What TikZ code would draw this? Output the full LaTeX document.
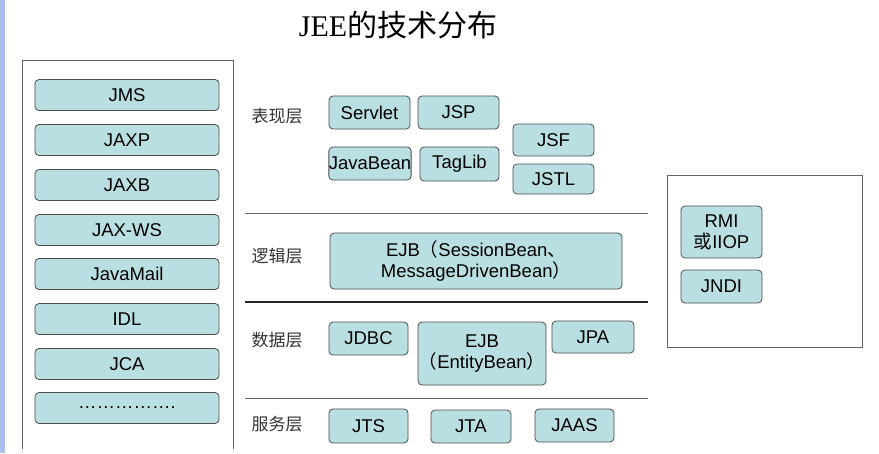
\documentclass[tikz,border=0pt]{standalone}
\usepackage{fontspec}
\setmainfont{Liberation Sans}
\newfontfamily\cjk{Noto Sans CJK SC}
\newfontfamily\titlefont{Liberation Serif}
\begin{document}
\begin{tikzpicture}[x=1pt,y=-1pt,
  tb/.style={draw=black!70,fill=boxfill,rounded corners=4pt,line width=0.8pt,inner sep=0pt,align=center,font=\fontsize{18.5}{21}\selectfont},
  lbl/.style={font=\cjk\fontsize{17}{20}\selectfont,text=black!80},
  frame/.style={draw=black!60,line width=0.7pt}]
\definecolor{boxfill}{HTML}{B9DFE2}
\useasboundingbox (0,0) rectangle (879,453);
\fill[fill=white] (0,0) rectangle (879,453);
\fill[fill={rgb,255:red,170;green,190;blue,235}] (0,0) rectangle (5,453);
\node (title) at (398,25) {\titlefont\fontsize{30}{34}\selectfont JEE\cjk 的技术分布};
% left box
\draw[frame] (22,449) -- (22,60) -- (233,60) -- (233,449);
\foreach \t/\y [count=\i] in {JMS/95,JAXP/140,JAXB/185,JAX-WS/230,JavaMail/274,IDL/319,JCA/364,{…………….}/408}
  \node[tb,minimum width=184pt,minimum height=31pt] (L\i) at (127,\y) {\t};
% layer lines
\coordinate (a1) at (245,213); \coordinate (a2) at (648,213);
\coordinate (b1) at (245,302); \coordinate (b2) at (648,302);
\coordinate (c1) at (245,398); \coordinate (c2) at (648,398);
\draw[frame] (a1) -- (a2);
\draw[black!85,line width=1.6pt] (b1) -- (b2);
\draw[frame] (c1) -- (c2);
\node[lbl] (p1) at (277,116) {表现层};
\node[lbl] (p2) at (277,256) {逻辑层};
\node[lbl] (p3) at (277,340) {数据层};
\node[lbl] (p4) at (277,424) {服务层};
\node[tb,minimum width=81pt,minimum height=33pt] (servlet) at (369.5,112.5) {Servlet};
\node[tb,minimum width=81pt,minimum height=33pt] (jsp) at (458.5,112.5) {JSP};
\node[tb,minimum width=82pt,minimum height=33pt] (jb) at (370,163.5) {JavaBean};
\node[tb,minimum width=79pt,minimum height=34pt] (tag) at (459.5,164) {TagLib};
\node[tb,minimum width=81pt,minimum height=32pt] (jsf) at (553.5,140) {JSF};
\node[tb,minimum width=81pt,minimum height=30pt] (jstl) at (553.5,179) {JSTL};
\node[tb,minimum width=292pt,minimum height=56pt] (ejb1) at (476,261) {EJB\cjk（\fontspec{Liberation Sans}SessionBean\cjk、\\MessageDrivenBean\cjk）};
\node[tb,minimum width=79pt,minimum height=33pt] (jdbc) at (368.5,338.5) {JDBC};
\node[tb,minimum width=128pt,minimum height=63pt] (ejb2) at (482,353.5) {EJB\\\cjk（\fontspec{Liberation Sans}EntityBean\cjk）};
\node[tb,minimum width=82pt,minimum height=32pt] (jpa) at (593,337) {JPA};
\node[tb,minimum width=79pt,minimum height=34pt] (jts) at (368.5,426) {JTS};
\node[tb,minimum width=80pt,minimum height=33pt] (jta) at (471,426.5) {JTA};
\node[tb,minimum width=79pt,minimum height=33pt] (jaas) at (574.5,425.5) {JAAS};
% right box
\draw[frame] (667,175) rectangle (862,347);
\node[tb,minimum width=81pt,minimum height=52pt] (rmi) at (721.5,232) {RMI\\\cjk 或\fontspec{Liberation Sans}IIOP};
\node[tb,minimum width=81pt,minimum height=33pt] (jndi) at (721.5,286.5) {JNDI};
\end{tikzpicture}
\end{document}
